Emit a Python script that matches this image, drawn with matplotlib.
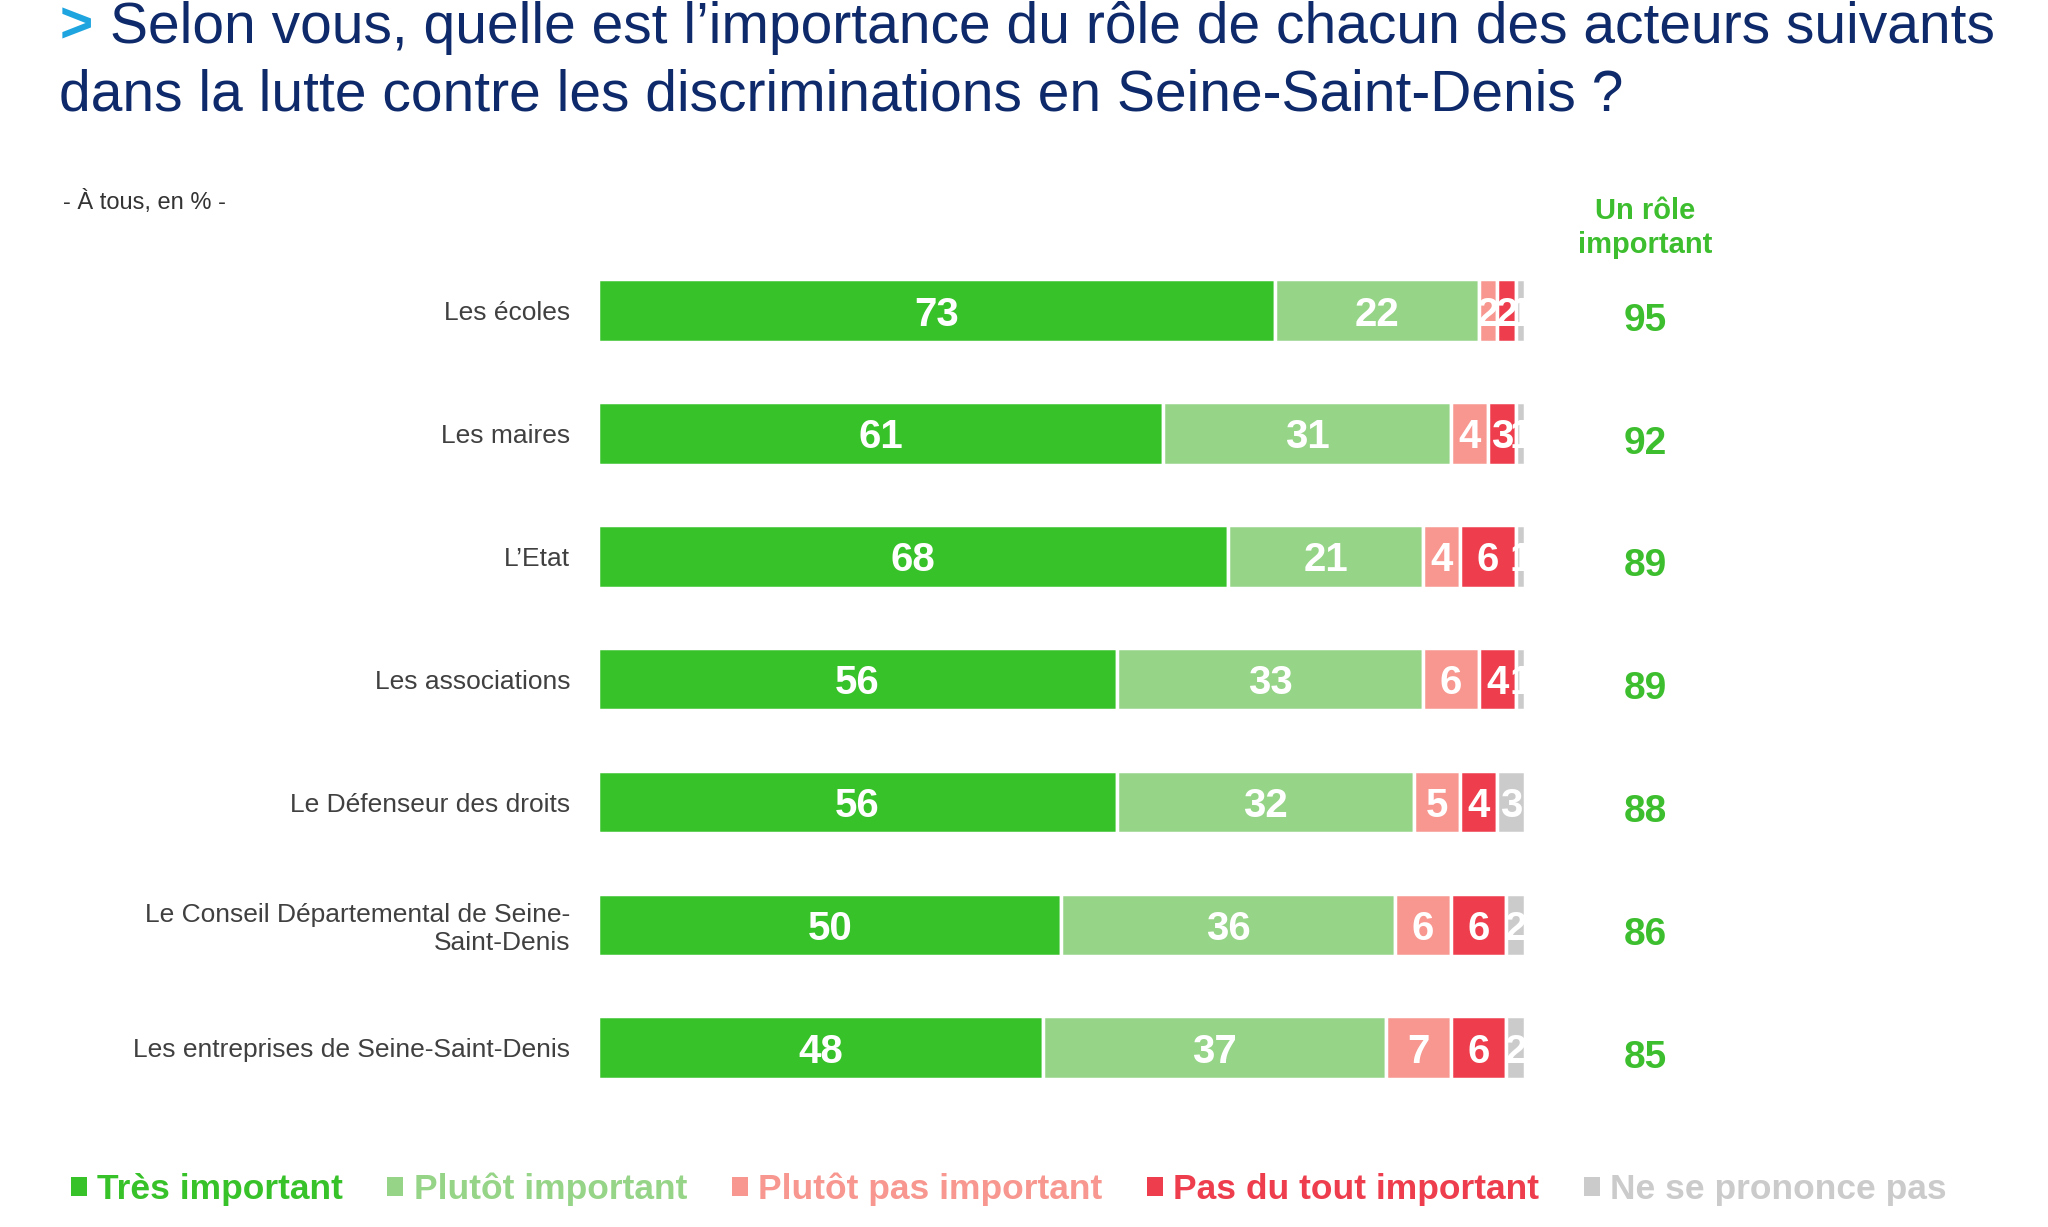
import matplotlib.pyplot as plt

plt.rcParams['font.family'] = ['Liberation Sans', 'DejaVu Sans']

# Data
acteurs = ["Les écoles", "Les maires", "L’Etat", "Les associations",
           "Le Défenseur des droits",
           "Le Conseil Départemental de Seine-\nSaint-Denis",
           "Les entreprises de Seine-Saint-Denis"]
tres_important = [73, 61, 68, 56, 56, 50, 48]
plutot_important = [22, 31, 21, 33, 32, 36, 37]
plutot_pas_important = [2, 4, 4, 6, 5, 6, 7]
pas_du_tout_important = [2, 3, 6, 4, 4, 6, 6]
ne_se_prononce_pas = [1, 1, 1, 1, 3, 2, 2]
role_important = [95, 92, 89, 89, 88, 86, 85]

series_labels = ["Très important", "Plutôt important", "Plutôt pas important",
                 "Pas du tout important", "Ne se prononce pas"]
series_colors = ["#38C22A", "#96D488", "#F7978F", "#EE3D4C", "#CBCBCB"]
series = [tres_important, plutot_important, plutot_pas_important,
          pas_du_tout_important, ne_se_prononce_pas]

fig = plt.figure(figsize=(20.48, 12.27), dpi=100)
ax = fig.add_axes([0.292, 0.096, 0.4526, 0.701])

y = list(range(len(acteurs)))
left = [0] * len(acteurs)
handles = []
for vals, lab, col in zip(series, series_labels, series_colors):
    bars = ax.barh(y, vals, left=left, height=0.51, color=col,
                   edgecolor="white", linewidth=2.5, label=lab)
    handles.append(bars)
    # value labels, clipped to their segment like in the original
    for rect, v in zip(bars, vals):
        t = ax.text(rect.get_x() + rect.get_width() / 2, rect.get_y() + rect.get_height() / 2,
                    str(v), ha="center", va="center_baseline", color="white",
                    fontsize=29, fontweight="bold")
        t.set_clip_path(rect)
    left = [l + v for l, v in zip(left, vals)]

# "Un rôle important" column
ax.text(113, -0.67, "Un rôle\nimportant", ha="center", va="center",
        color="#3DBE2E", fontsize=21, fontweight="bold", linespacing=1.3)
for i, v in enumerate(role_important):
    ax.text(113, i + 0.05, str(v), ha="center", va="center_baseline",
            color="#3DBE2E", fontsize=28, fontweight="bold")

ax.set_xlim(0, 100)
ax.set_ylim(len(acteurs) - 0.5, -0.5)
ax.set_yticks(y)
ax.set_yticklabels(acteurs, fontsize=19, color="#404040", ha="right")
ax.tick_params(axis="y", length=0, pad=20)
ax.set_xticks([])
for s in ax.spines.values():
    s.set_visible(False)

# Title
fig.text(0.029, 0.965, ">", color="#1EA5E0", fontsize=41, va="baseline", ha="left",
         fontweight="bold")
fig.text(0.0535, 0.965, "Selon vous, quelle est l’importance du rôle de chacun des acteurs suivants",
         color="#0E2A6B", fontsize=41, va="baseline", ha="left")
fig.text(0.029, 0.910, "dans la lutte contre les discriminations en Seine-Saint-Denis ?",
         color="#0E2A6B", fontsize=41, va="baseline", ha="left")
fig.text(0.031, 0.835, "- À tous, en % -", color="#333333", fontsize=17,
         va="center", ha="left")

leg = fig.legend(handles=handles, labels=series_labels, loc="center left",
                 bbox_to_anchor=(0.019, 0.031), ncol=5, frameon=False,
                 handlelength=0.45, handleheight=0.45,
                 handletextpad=0.3, columnspacing=1.25,
                 labelcolor=series_colors,
                 prop={"weight": "bold", "size": 25.5})
for h in leg.legend_handles:
    h.set_edgecolor("none")

fig.savefig("out.png", dpi=100, facecolor="white")
